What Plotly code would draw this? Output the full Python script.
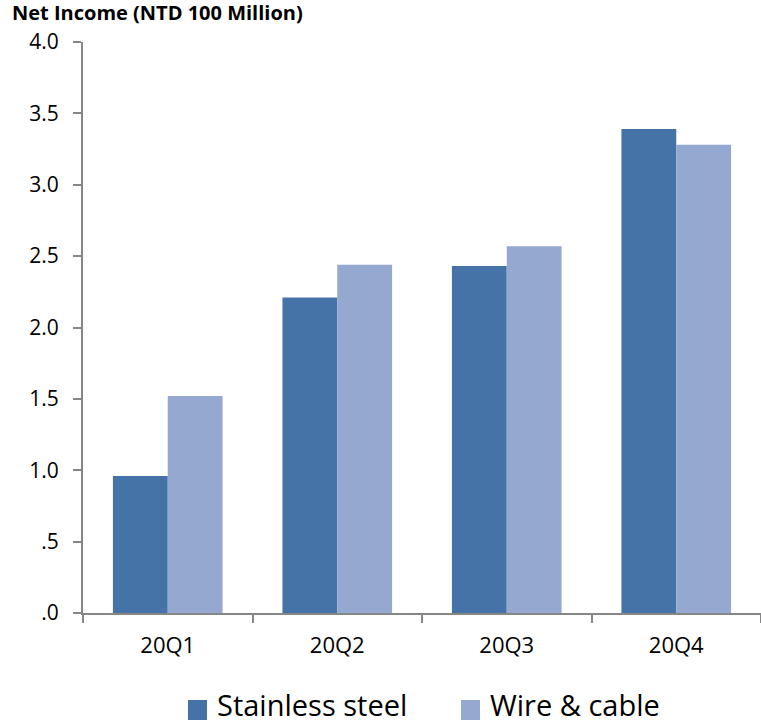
import plotly.graph_objects as go

quarters = ["20Q1", "20Q2", "20Q3", "20Q4"]
stainless = [0.96, 2.21, 2.43, 3.39]
wire = [1.52, 2.44, 2.57, 3.28]
series_names = ["Stainless steel", "Wire & cable"]
series_colors = ["#4573A7", "#95A9D0"]
ytick_vals = [0, 0.5, 1.0, 1.5, 2.0, 2.5, 3.0, 3.5, 4.0]
ytick_text = [".0", ".5", "1.0", "1.5", "2.0", "2.5", "3.0", "3.5", "4.0"]

FONT = "Open Sans"
AXIS = "#868686"
W, H = 761, 726
ML, MR, MT, MB = 83, 0, 42, 113
PW, PH = W - ML - MR, H - MT - MB


def px_x(px):
    return (px - ML) / PW


def px_y(py):
    return (H - MB - py) / PH


fig = go.Figure()
for name, vals, col in zip(series_names, [stainless, wire], series_colors):
    fig.add_trace(go.Bar(x=quarters, y=vals, name=name,
                         marker=dict(color=col, line=dict(width=0))))

# legend drawn as shapes + annotations (large swatches like the reference)
legend_items = [(188, 215), (461, 488)]
for (sx, tx), name, col in zip(legend_items, series_names, series_colors):
    fig.add_shape(type="rect", xref="paper", yref="paper",
                  x0=px_x(sx), x1=px_x(sx + 19), y0=px_y(720), y1=px_y(700),
                  fillcolor=col, line=dict(width=0))
    fig.add_annotation(text=name, xref="paper", yref="paper",
                       x=px_x(tx), y=px_y(704), xanchor="left", yanchor="middle",
                       showarrow=False,
                       font=dict(family=FONT, size=29, color="black"))

fig.update_layout(
    width=W, height=H,
    margin=dict(l=ML, r=MR, t=MT, b=MB),
    paper_bgcolor="white", plot_bgcolor="white",
    barmode="group", bargap=0.353, bargroupgap=0,
    font=dict(family=FONT, color="black", size=18),
    title=dict(text="<b>Net Income (NTD 100 Million)</b>",
               xref="container", yref="container",
               x=12/W, y=1-13/H, xanchor="left", yanchor="middle",
               font=dict(family=FONT, size=20, color="black")),
    showlegend=False,
)
fig.update_xaxes(showline=True, linecolor=AXIS, linewidth=2,
                 ticks="outside", tickson="boundaries", ticklen=8,
                 tickcolor=AXIS, tickwidth=2, showgrid=False,
                 ticklabelstandoff=12,
                 tickfont=dict(family=FONT, size=22, color="black"))
fig.update_yaxes(range=[0, 4], showline=True, linecolor=AXIS, linewidth=2,
                 ticks="outside", ticklen=8, tickcolor=AXIS, tickwidth=2,
                 showgrid=False, zeroline=False,
                 tickvals=ytick_vals, ticktext=ytick_text,
                 ticklabelstandoff=10,
                 tickfont=dict(family=FONT, size=21, color="black"))

fig.write_html("out.html")
